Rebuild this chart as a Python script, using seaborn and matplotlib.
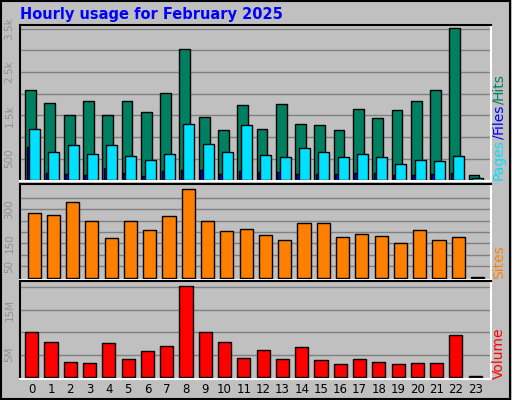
import matplotlib
matplotlib.use("Agg")
from matplotlib import pyplot as plt
from matplotlib.patches import Rectangle
import numpy as np
import pandas as pd
import seaborn as sns

hours = list(range(24))
hits = [2077, 1777, 1500, 1823, 1500, 1823, 1569, 2008, 3023, 1454, 1154, 1731,
        1177, 1754, 1292, 1269, 1154, 1638, 1431, 1615, 1823, 2077, 3508, 115]
files = [769, 169, 146, 123, 285, 169, 100, 215, 238, 238, 146, 215,
         192, 192, 146, 146, 146, 169, 169, 123, 123, 146, 169, 20]
pages = [1177, 646, 808, 600, 808, 554, 461, 600, 1292, 831, 646, 1269,
         577, 531, 738, 646, 531, 600, 531, 369, 461, 438, 554, 46]
sites = [281, 273, 330, 246, 172, 246, 207, 268, 386, 246, 203, 211,
         185, 163, 238, 238, 176, 190, 182, 150, 207, 163, 176, 4]
volume_mb = [10.1, 7.9, 3.4, 3.2, 7.5, 4.1, 5.9, 7.0, 20.2, 10.1, 7.7, 4.3,
             6.1, 3.9, 6.6, 3.7, 3.0, 3.9, 3.4, 3.0, 3.2, 3.2, 9.3, 0.3]

BG = "#C0C0C0"
GRID = "#808080"
sns.set_style("white")
plt.rcParams["font.family"] = ["DejaVu Sans"]

fig = plt.figure(figsize=(5.12, 4.0), dpi=100, facecolor=BG)
fig.patches.append(Rectangle((0.002, 0.003), 0.994, 0.994, transform=fig.transFigure,
                             fill=False, edgecolor="black", lw=1.5))

W, H = 512, 400
def axes_px(top, bottom):
    return fig.add_axes([20 / W, (H - bottom) / H, 471 / W, (bottom - top) / H], facecolor=BG)

def style(ax, ticks, labels):
    ax.set_yticks(ticks)
    ax.set_yticklabels(labels, rotation=90, va="center", color="#909090", fontsize=7.5)
    ax.yaxis.grid(True, color=GRID, lw=1)
    ax.set_axisbelow(True)
    ax.tick_params(axis="y", length=0, pad=4)
    for s in ["left", "top"]:
        ax.spines[s].set_color("black")
    for s in ["right", "bottom"]:
        ax.spines[s].set_color("white")
    for s in ax.spines.values():
        s.set_linewidth(1.5)
    ax.set_xlabel("")
    ax.set_ylabel("")

# top panel: hits / files / pages
ax1 = axes_px(25, 181)
x = np.array(hours)
ax1.bar(x - 0.18, hits, width=0.56, color="#008060", edgecolor="black", lw=1)
ax1.bar(x - 0.105, files, width=0.57, color="#0000FF", edgecolor="black", lw=1)
ax1.bar(x + 0.025, pages, width=0.57, color="#00E0FF", edgecolor="black", lw=1)
ax1.set_xlim(-0.73, 23.7)
ax1.set_ylim(-16, 3586)
style(ax1, [500, 1000, 1500, 2000, 2500, 3000, 3500],
      ["500", "", "1.5k", "", "2.5k", "", "3.5k"])
ax1.set_xticks([])

# middle panel: sites
ax2 = axes_px(184, 280)
df_sites = pd.DataFrame({"hour": hours, "sites": sites})
sns.barplot(data=df_sites, x="hour", y="sites", color="#FF8000", saturation=1,
            width=0.68, edgecolor="black", linewidth=1, ax=ax2)
ax2.set_xlim(-0.73, 23.7)
ax2.set_ylim(-10, 410)
style(ax2, [50, 100, 150, 200, 250, 300, 350], ["50", "", "150", "", "", "300", ""])
ax2.set_xticks([])

# bottom panel: volume
ax3 = axes_px(281, 379)
df_vol = pd.DataFrame({"hour": hours, "volume": volume_mb})
sns.barplot(data=df_vol, x="hour", y="volume", color="#FF0000", saturation=1,
            width=0.68, edgecolor="black", linewidth=1, ax=ax3)
ax3.set_xlim(-0.61, 23.82)
ax3.set_ylim(-0.45, 21.4)
style(ax3, [5, 10, 15, 20], ["5M", "", "15M", ""])
ax3.set_xticks(hours)
ax3.set_xticklabels([str(h) for h in hours], fontsize=8.5, color="black")
ax3.tick_params(axis="x", length=0, pad=3)

# titles and side labels
fig.text(20 / W, 1 - 15 / H, "Hourly usage for February 2025", color="#0000FF",
         fontsize=10.5, fontweight="bold", va="center")
side_x = 499 / W
renderer = fig.canvas.get_renderer()
ypos = 180
for txt, col in [("Pages", "#00E0FF"), ("/", "#0000FF"), ("Files", "#0000FF"),
                 ("/", "#008060"), ("Hits", "#008060")]:
    t = fig.text(side_x, 1 - ypos / H, txt, color=col, rotation=90, ha="center",
                 va="bottom", fontsize=10)
    ypos -= t.get_window_extent(renderer).height
fig.text(side_x, 1 - 262 / H, "Sites", color="#FF8000", rotation=90, ha="center", va="center", fontsize=10)
fig.text(side_x, 1 - 353 / H, "Volume", color="#FF0000", rotation=90, ha="center", va="center", fontsize=10)

fig.savefig("out.png", dpi=100, facecolor=BG)
